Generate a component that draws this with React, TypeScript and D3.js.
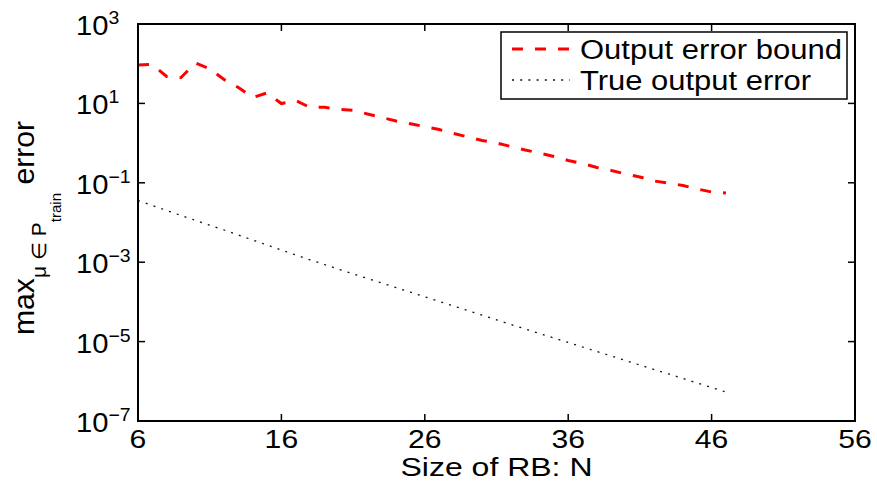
import React from "react";
import * as d3 from "d3";

const sizesN = [6,7,8,9,10,11,12,13,14,15,16,17,18,19,20,21,22,23,24,25,26,27,28,29,30,31,32,33,34,35,36,37,38,39,40,41,42,43,44,45,46,47];
const boundErr = [92.7,95.5,47.7,44.9,104,74.8,40,25.2,14.1,18.3,9.93,11.8,7.89,7.98,7.10,6.70,5.41,4.42,3.61,3.08,2.59,2.20,1.75,1.43,1.16,1.01,0.822,0.670,0.563,0.460,0.365,0.306,0.243,0.204,0.167,0.140,0.111,0.0988,0.0855,0.0698,0.0586,0.0553];
const trueErr = [0.03582,0.02681,0.02006,0.01501,0.01136,0.008551,0.006475,0.004843,0.003624,0.002711,0.002029,0.001518,0.001149,8.75e-4,6.66e-4,5.10e-4,3.88e-4,2.99e-4,2.29e-4,1.755e-4,1.344e-4,1.029e-4,7.88e-5,6.04e-5,4.62e-5,3.54e-5,2.70e-5,2.08e-5,1.60e-5,1.232e-5,9.49e-6,7.31e-6,5.63e-6,4.34e-6,3.34e-6,2.57e-6,1.98e-6,1.53e-6,1.176e-6,9.06e-7,6.98e-7,5.37e-7];
const xTicks = [6,16,26,36,46,56];
const yTickExps = [3,1,-1,-3,-5,-7];
const legendLabels = ["Output error bound","True output error"];
const xLabel = "Size of RB: N";

const W = 877, H = 487;
const L = 138, R = 855, T = 24, B = 421;
const FONT = "'Liberation Sans', Arial, Helvetica, sans-serif";

export default function App() {
  const x = d3.scaleLinear().domain([6, 56]).range([L, R]);
  const y = d3.scaleLog().domain([1e-7, 1e3]).range([B, T]);
  const line = d3.line<[number, number]>().x(d => x(d[0])).y(d => y(d[1]));
  const boundPts = sizesN.map((n, i) => [n, boundErr[i]] as [number, number]);
  const truePts = sizesN.map((n, i) => [n, trueErr[i]] as [number, number]);
  const tl = 7;
  const fmt = (e: number) => (e < 0 ? "\u2212" + Math.abs(e) : String(e));
  return (
    <svg width={W} height={H} style={{ position: "absolute", left: 0, top: 0, background: "#fff" }} fontFamily={FONT}>
      <rect x={0} y={0} width={W} height={H} fill="#fff" />
      <path d={line(truePts) || ""} fill="none" stroke="#111" strokeWidth={1.3} strokeDasharray="2 6.2" />
      <path d={line(boundPts) || ""} fill="none" stroke="#ff0000" strokeWidth={3} strokeDasharray="11 12" />
      {xTicks.map(t => (
        <g key={"xt" + t}>
          <line x1={x(t)} x2={x(t)} y1={B} y2={B - tl} stroke="#000" strokeWidth={1.5} />
          <line x1={x(t)} x2={x(t)} y1={T} y2={T + tl} stroke="#000" strokeWidth={1.5} />
          <text x={x(t)} y={448} fontSize={26} textAnchor="middle" fill="#000" transform={`translate(${x(t)},0) scale(1.16,1) translate(${-x(t)},0)`}>{t}</text>
        </g>
      ))}
      {yTickExps.map(e => (
        <g key={"yt" + e}>
          <line x1={L} x2={L + tl} y1={y(Math.pow(10, e))} y2={y(Math.pow(10, e))} stroke="#000" strokeWidth={1.5} />
          <line x1={R} x2={R - tl} y1={y(Math.pow(10, e))} y2={y(Math.pow(10, e))} stroke="#000" strokeWidth={1.5} />
          <text x={76} y={y(Math.pow(10, e)) + 11} fontSize={27} fill="#000" transform="translate(76,0) scale(1.08,1) translate(-76,0)">
            10<tspan fontSize={18} dy={-11}>{fmt(e)}</tspan>
          </text>
        </g>
      ))}
      <rect x={L} y={T} width={R - L} height={B - T} fill="none" stroke="#000" strokeWidth={2} />
      <text x={(L + R) / 2} y={476} fontSize={25} textAnchor="middle" fill="#000" textLength={192} lengthAdjust="spacingAndGlyphs">{xLabel}</text>
      <text transform="translate(34,228) rotate(-90) scale(1.16,1.12)" fontSize={26} textAnchor="middle" fill="#000">
        max<tspan fontSize={18} dy={11}>{"\u03bc \u2208 P"}</tspan><tspan fontSize={13} dy={13}>train</tspan><tspan fontSize={26} dy={-24}>{" error"}</tspan>
      </text>
      <g>
        <rect x={501} y={32} width={346} height={67} fill="#fff" stroke="#000" strokeWidth={1.5} />
        <line x1={512} x2={570} y1={49} y2={49} stroke="#ff0000" strokeWidth={3} strokeDasharray="11 12" />
        <line x1={512} x2={570} y1={80} y2={80} stroke="#111" strokeWidth={1.3} strokeDasharray="2 6.2" />
        <text x={580} y={59} fontSize={27} fill="#000" textLength={262} lengthAdjust="spacingAndGlyphs">{legendLabels[0]}</text>
        <text x={580} y={90} fontSize={27} fill="#000" textLength={231} lengthAdjust="spacingAndGlyphs">{legendLabels[1]}</text>
      </g>
    </svg>
  );
}
